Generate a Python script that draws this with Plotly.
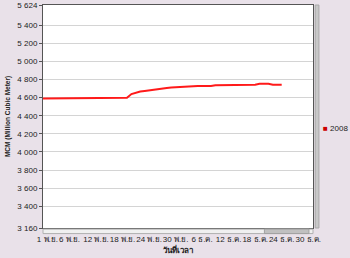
import datetime as dt
import plotly.graph_objects as go

start = dt.date(2008, 10, 31)
values = ([4592] * 12 + [4598] * 5 + [4592] * 2 + [4600, 4640, 4658, 4668, 4675, 4683, 4690,
          4696, 4702, 4708, 4712, 4716, 4719, 4722, 4725, 4727] +
          [4729] * 4 + [4738] * 3 + [4744] * 7 + [4755] * 3 + [4744] * 3)
dates = [start + dt.timedelta(days=i) for i in range(len(values))]
series_name = "2008"

y_ticks = [3160, 3400, 3600, 3800, 4000, 4200, 4400, 4600, 4800, 5000, 5200, 5400, 5624]
y_labels = ["3 160", "3 400", "3 600", "3 800", "4 000", "4 200", "4 400", "4 600",
            "4 800", "5 000", "5 200", "5 400", "5 624"]
x_ticks = ["2008-11-01", "2008-11-06", "2008-11-12", "2008-11-18", "2008-11-24", "2008-11-30",
           "2008-12-06", "2008-12-12", "2008-12-18", "2008-12-24", "2008-12-30"]
x_labels = ["1 พ.ย.", "6 พ.ย.", "12 พ.ย.", "18 พ.ย.", "24 พ.ย.", "30 พ.ย.",
            "6 ธ.ค.", "12 ธ.ค.", "18 ธ.ค.", "24 ธ.ค.", "30 ธ.ค."]

font = "'Liberation Sans', Arial, sans-serif"
line_color = "#FF1A1A"

fig = go.Figure()
fig.add_trace(go.Scatter(x=dates, y=values, mode="lines", name=series_name,
                         line=dict(color=line_color, width=2), showlegend=False))

fig.update_layout(
    width=350, height=258,
    margin=dict(l=43, r=37, t=5, b=30, autoexpand=False),
    paper_bgcolor="#E9E1E9", plot_bgcolor="white",
    font=dict(family=font, size=8, color="#222222"),
    showlegend=False,
    xaxis=dict(range=["2008-10-31", "2008-12-31 02:00"], tickvals=x_ticks, ticktext=x_labels,
               showgrid=False, ticks="outside", ticklen=3, tickcolor="#555",
               showline=True, linecolor="#555", linewidth=1, mirror=True, tickangle=0,
               title=dict(text="<b>วันที่เวลา</b>", standoff=0, font=dict(size=8))),
    yaxis=dict(range=[3160, 5624], tickvals=y_ticks, ticktext=y_labels,
               showgrid=True, gridcolor="#D4D4D4", gridwidth=1, ticks="outside", ticklen=3,
               tickcolor="#555", showline=True, linecolor="#555", linewidth=1, mirror=True,
               zeroline=False,
               title=dict(text="<b>MCM (Million Cubic Meter)</b>", standoff=6,
                          font=dict(size=6.5))),
)

# legend entry drawn as text (series name from data)
fig.add_annotation(xref="paper", yref="paper", x=1.03, y=0.445, xanchor="left", yanchor="middle",
                   showarrow=False, align="left",
                   text=f"<span style='color:#CC0000'>■</span> {series_name}",
                   font=dict(size=8, color="#222222"))

# scrollbars (decorative)
fig.add_shape(type="rect", xref="paper", yref="paper", x0=1.008, x1=1.022, y0=0.0, y1=1.0,
              fillcolor="#C8C8C8", line=dict(color="#A8A8A8", width=1))
fig.add_shape(type="rect", xref="paper", yref="paper", x0=0.0, x1=1.0, y0=-0.025, y1=-0.005,
              fillcolor="#F0F0F0", line=dict(color="#B0B0B0", width=1))
fig.add_shape(type="rect", xref="paper", yref="paper", x0=0.82, x1=0.985, y0=-0.025, y1=-0.005,
              fillcolor="#C0C0C0", line=dict(color="#A0A0A0", width=1))

fig.write_html("out.html")
